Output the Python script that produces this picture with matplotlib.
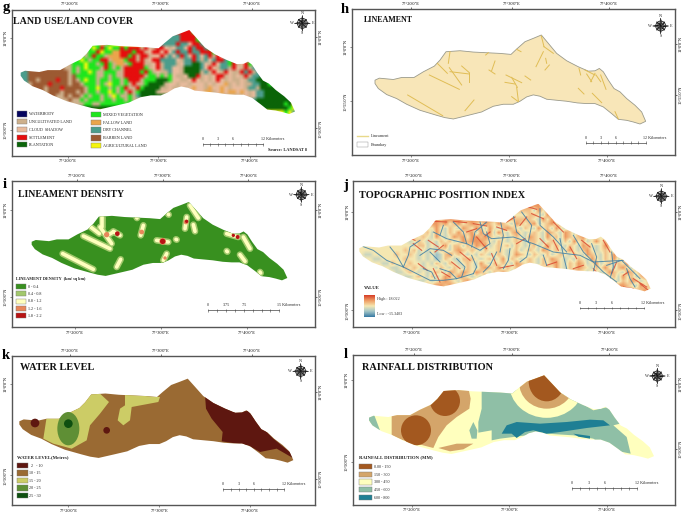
import numpy as np
import matplotlib
matplotlib.use('Agg')
import matplotlib.pyplot as plt
from matplotlib.colors import ListedColormap, LinearSegmentedColormap, to_rgb
from matplotlib.patches import Polygon, Rectangle, Circle, Ellipse

plt.rcParams['font.family'] = ['Liberation Serif', 'DejaVu Serif']

basin_x = [105, 118, 160, 185, 222, 250, 283, 300, 318, 360, 400, 440, 480, 513, 530, 555, 580, 604, 625, 650, 680,
           715, 745, 765, 778, 790, 805, 822, 840, 860, 885, 905, 917, 900, 880, 860, 835, 815, 790, 765, 740, 712,
           680, 650, 620, 600, 580, 560, 540, 520, 490, 460, 435, 425, 405, 385, 340, 315, 290, 240, 200, 170, 140,
           115, 105]
basin_y = [240, 234, 238, 232, 232, 215, 198, 180, 155, 152, 156, 158, 160, 163, 147, 125, 115, 105, 130, 160, 182,
           200, 213, 212, 205, 215, 240, 265, 275, 295, 315, 335, 363, 371, 365, 360, 357, 340, 320, 310, 310, 308,
           303, 300, 297, 288, 284, 290, 303, 312, 312, 318, 330, 335, 340, 345, 356, 352, 345, 330, 312, 295, 283,
           265, 250]

# land use classes, one letter per cell, '.' is outside the basin
lulc_names = ['WATERBODY', 'UNCULTIVATED LAND', 'CLOUD  SHADOW', 'SETTLEMENT', 'PLANTATION',
              'MIXED VEGETATION', 'FALLOW LAND', 'DRY CHANNEL', 'BARREN LAND', 'AGRICULTURAL LAND']
lulc_colors = ['#05055f', '#cdb08c', '#e8bb9d', '#e60d0d', '#0a6408',
               '#1ee61e', '#eba54b', '#4b9d8c', '#9c5a32', '#f5f50f']
lulc_letters = 'WUCSPMFDBA'
lulc_grid = [
    '.........................................SSMM',
    '.......................................DSSSSMP',
    '.....................................DDDSSSSMMP',
    '.................AMMFUMA.............DDSDDCSSDMPMP',
    '.................MAMSMAMMSMSSSUSCUSSCUCDDCSDSSDMMPMP',
    '................UMMSAMMFFSSSMSSUCSSCSCDSDDSDDSSSMPDMP',
    '..............MMUMSMMUFFFSSMSUSSUCCSUDCDSDCSDCDSUSCDPS',
    '............UMMAMUMMSSUFFFMSSUSUCSSDDDDCUDDSDUDCDSSDMSSU.....DD',
    '..........BUUMMMAMMUMSMUFFUMSSSUUCSUDDDUCDDPPDCUSCDDMSUCSMUDDDD',
    '........BBBUUMUMAMMMUSMUMUSSSSSMUCSUDDCCUPPPPDCSCUDDUSCUSUDDDDSD',
    'DDBBBBBBBBBBUMUMMAMUUMMMUUSSSSMSMUCUUDCCUPPPPUDUSCUSCUUSDSUDDDPPU',
    'DDBBBBBBBBBBUBMMMMMUUMUMUUSSSSSUMMUMUMCUUCPPSUCUCSSUCUCUSUDDPPPPU',
    'DDBBUBBBBSBBUBUMAMMUMMUMMUMSSSUMMMPPPMCCUUCSCUCUCSCUCUUCUDDPPPPPU',
    '.DUBBBBSBBBBUBBUMMMUMUAMMUMUSUUMPPPPUCCUCCUCCCUCUCCFUCUCUUDDPPMPPP',
    '....BBUBBBSBBBBBUMMAMMUMUMSUUSMPPPPUUCU.CUCFCCUFCCFCUCCCUDDUPPPPPPA',
    '.....BUBBBUBBBUBUMMUMMAMUMUSUMPPPPUC.........CFFUCFCFFCFCUCDDPPPPPPPAM',
    '........BUUBUBBUMUMMUMUAMUUMUDPP.......................UCUCDDPPPPPPPMPAD',
    '..........UUBUUMUMMMUMMUMMUMUU..........................UUDPPPPPPPPPAPDD',
    '...............UMMUUM......................................PPPPPPPMPAPDD',
    '...............................................................PPPPMAPAMDD',
    '.................................................................AMADD',
]

# topographic position, 0 valley blue to 4 ridge red, one digit per cell
tpi_grid = [
    '........................................4343',
    '......................................3142434',
    '.....................................233214343',
    '.................4344.................32142431234',
    '.................4342342343243243214323412342313',
    '................24213214324314213432132142314213423',
    '..............2314213242341424142134212321432143142',
    '............3232142124342443432131232143214231432342...2334',
    '..........2123212132312434443213212321332123213142312423423',
    '........22221331212413313243412323132123124232132143212431422',
    '22222222223231212132134323213223212312321432312421342123214232',
    '21122222322321212013423212132123212432132131232132143213243214',
    '222112222232212120132113332123124132123213243212132142132413423',
    '.2222113222322121321321232142132321432321323421324312412313243',
    '....3221123232122132132132134324132341.342324213243213242134213',
    '.....3221123212123214324324321324213.........3124321321243214324',
    '........2211232131243243212143243.......................2314231342',
    '..........32211212343213432143...........................213243123',
    '...............3344343.....................................4321423',
    '...............................................................34233',
]
tpi_colors = ['#3d7ea6', '#a6c7c8', '#f6e8b2', '#efa268', '#d8432b']

# streams picked out in blue on the TPI panel
tpi_streams = [
    [(65, 222), (100, 235), (140, 265), (190, 285), (240, 310), (270, 325), (310, 325), (350, 320), (400, 305)],
    [(190, 285), (205, 250), (210, 225), (240, 205)],
    [(240, 250), (270, 230), (310, 235), (335, 250)],
    [(270, 240), (300, 270)],
    [(280, 180), (320, 200), (380, 215), (420, 235), (450, 215), (440, 180)],
    [(420, 150), (430, 185), (455, 200), (520, 195), (580, 215), (640, 240), (720, 250), (760, 270), (850, 265)],
    [(520, 130), (530, 180), (570, 215), (560, 255), (540, 270)],
    [(600, 110), (600, 160), (640, 195), (680, 240)],
    [(700, 190), (730, 240), (790, 300), (830, 330)],
    [(470, 240), (450, 280), (430, 300)],
    [(340, 150), (370, 180), (380, 215)],
    [(800, 280), (845, 265), (900, 320)],
    [(300, 290), (330, 300), (350, 320)],
    [(480, 140), (490, 190), (480, 240)],
    [(150, 225), (170, 250), (190, 285)],
    [(395, 250), (410, 285), (400, 305)],
    [(350, 260), (375, 285), (365, 315)],
    [(510, 230), (505, 265), (490, 290)],
    [(610, 250), (620, 280)],
    [(660, 200), (670, 250), (680, 290)],
    [(755, 215), (770, 255), (760, 300)],
    [(815, 240), (820, 285), (810, 320)],
    [(860, 290), (870, 320), (885, 345)],
    [(440, 120 + 30), (405, 180), (395, 225)],
    [(310, 160), (300, 190)],
    [(545, 120), (575, 160), (565, 210)],
    [(250, 290), (275, 300), (285, 320)],
]
tpi_ridges = [
    [(280, 148), (320, 150)], [(340, 148), (380, 152)], [(400, 155), (440, 162)], [(435, 192), (450, 180)],
    [(220, 215), (245, 235)], [(265, 205), (295, 225)], [(285, 240), (310, 220)], [(305, 300), (330, 315)],
    [(280, 290), (300, 330)], [(480, 288), (520, 280)], [(565, 105), (590, 112)], [(575, 125), (610, 140)],
    [(640, 205), (655, 235)], [(690, 225), (710, 260)], [(790, 205), (810, 240)], [(830, 270), (815, 305)],
    [(880, 320), (920, 345)], [(850, 345), (880, 350)], [(470, 165), (500, 175)], [(360, 240), (390, 265)],
    [(410, 195), (440, 230)], [(600, 200), (625, 225)], [(530, 215), (555, 200)], [(455, 245), (470, 280)],
    [(560, 135), (540, 160)], [(640, 150), (670, 180)], [(725, 205), (750, 225)], [(760, 290), (790, 325)],
    [(335, 270), (360, 290)], [(235, 275), (262, 295)], [(200, 195), (225, 205)], [(620, 280), (650, 270)],
    [(700, 290), (730, 280)], [(850, 310), (865, 300)], [(900, 335), (925, 355)], [(500, 150), (525, 135)],
    [(380, 180), (410, 170)],
]

lineaments = [
    [(330, 155), (325, 190)], [(292, 190), (322, 220)], [(268, 225), (358, 268)], [(328, 203), (365, 255)],
    [(330, 215), (388, 222)], [(365, 198), (388, 218)], [(388, 218), (388, 245)], [(203, 285), (308, 347)],
    [(402, 300), (375, 332)], [(465, 183), (455, 212)], [(447, 210), (465, 222)], [(498, 225), (545, 248)],
    [(495, 247), (525, 252)], [(515, 232), (532, 262)], [(530, 262), (535, 302)], [(515, 290), (535, 305)],
    [(555, 228), (572, 240)], [(604, 108), (612, 140)], [(612, 140), (640, 160)], [(610, 155), (588, 200)],
    [(617, 175), (620, 190)], [(628, 195), (615, 210)], [(530, 148), (543, 155)], [(437, 165), (445, 158)],
    [(717, 205), (722, 225)], [(735, 210), (765, 225)], [(740, 222), (755, 245)], [(765, 220), (752, 245)],
    [(768, 225), (782, 245)], [(782, 225), (798, 268)], [(715, 265), (732, 282)], [(757, 280), (785, 308)],
    [(825, 335), (835, 357)],
]

density_names = ['0 - 0.4', '0.4 - 0.8', '0.8 - 1.2', '1.2 - 1.6', '1.8 - 2.2']
density_colors = ['#38901f', '#a2c86c', '#ffffbe', '#e8875a', '#b81414']
density_bands = [
    [(188, 245), (280, 292)], [(250, 192), (330, 230)], [(272, 165), (298, 185)], [(305, 135), (305, 165)],
    [(300, 165), (335, 215)], [(340, 178), (360, 190)], [(430, 160), (422, 190)], [(470, 205), (505, 210)],
    [(500, 245), (490, 265)], [(362, 262), (350, 285)], [(570, 100), (595, 138)], [(560, 135), (555, 170)],
    [(580, 158), (585, 178)], [(680, 185), (715, 195)], [(730, 195), (750, 230)], [(680, 237), (682, 239)],
    [(720, 248), (735, 268)], [(780, 300), (782, 303)], [(528, 202), (530, 203)], [(505, 127), (506, 128)],
    [(410, 137), (411, 138)], [(322, 190), (340, 180)],
]
density_warm = [(320, 188, 8), (425, 180, 7), (495, 258, 5), (558, 150, 7), (488, 208, 10)]
density_hot = [(352, 185, 7), (488, 208, 8), (560, 148, 5), (700, 190, 5), (713, 195, 6)]

water_names = ['  2   - 10', '10 - 15', '15 - 20', '20 - 25', '25 - 30']
water_colors = ['#5e1710', '#9a6a33', '#cccc66', '#5f8f35', '#0e4f10']
water_maroon = [(615, 160), (650, 185), (700, 210), (745, 207), (775, 245), (820, 290), (875, 335), (882, 350),
                (830, 320), (780, 330), (745, 310), (665, 298), (668, 270), (635, 230), (618, 200)]
water_olive_a = [(140, 225), (175, 222), (215, 190), (265, 155), (300, 155), (327, 180), (300, 215), (270, 250),
                 (260, 295), (215, 320), (160, 305), (130, 290)]
water_olive_b = [(375, 158), (480, 165), (475, 180), (395, 195), (390, 235), (370, 250), (353, 235), (360, 200),
                 (375, 190)]

rain_names = ['0.00 - 150', '150 - 300', '300 - 450', '450 - 600', '600 - 800']
rain_colors = ['#a3581f', '#d4a56a', '#ffffbe', '#8fbfa6', '#1f7f94']
rain_green_a = [(425, 145), (510, 150), (600, 120), (700, 170), (760, 205), (805, 195), (840, 245), (820, 250),
                (860, 285), (872, 335), (800, 320), (760, 290), (700, 280), (620, 275), (560, 280), (480, 290),
                (455, 295), (455, 265), (415, 272), (415, 240), (425, 200)]
rain_green_b = [(87, 212), (100, 212), (120, 265), (100, 260), (87, 235)]
rain_green_c = [(400, 240), (412, 265), (410, 290), (395, 290), (388, 265)]
rain_blue_a = [(485, 275), (500, 250), (530, 240), (600, 245), (680, 240), (750, 233), (790, 235), (810, 250),
               (740, 258), (660, 270), (620, 275), (580, 265), (555, 270), (530, 288), (515, 275)]
rain_blue_b = [(700, 275), (750, 282), (750, 290), (715, 284)]
rain_tan_a = [(155, 220), (215, 195), (270, 180), (320, 135), (385, 138), (392, 170), (388, 200), (350, 225),
              (320, 250), (295, 285), (280, 318), (230, 305), (190, 295), (155, 280)]
rain_tan_b = [(295, 318), (350, 305), (400, 305), (370, 322), (330, 328)]

# panel frames in figure pixels are origin + crop/3
panels = {
    'g': dict(origin=(0, 0), frame=(35, 945, 30, 467), basin=(62, 885, 90, 342), title='LAND USE/LAND COVER',
              title_xy=(40, 66), title_size=7.2, top=(208, 482, 755), bottom=(203, 475, 749), left=(115, 390),
              right=(110, 385), lat=('11°0\'0"N', '10°50\'0"N'), letter_xy=(18, 22), compass=(907, 70),
              bar=(608, 790, 433), bar_labels=('0', '3', '6', '12 Kilometers')),
    'h': dict(origin=(340, 0), frame=(35, 1005, 28, 465), basin=(105, 917, 105, 372), title='LINEAMENT',
              title_xy=(73, 61), title_size=5.8, top=(213, 515, 806), bottom=(213, 506, 800), left=(142, 304),
              right=(132, 285), lat=('11°0\'0"N', '10°55\'0"N'), letter_xy=(14, 28), compass=(962, 78),
              bar=(738, 917, 428), bar_labels=('0', '3', '6', '12 Kilometers')),
    'i': dict(origin=(0, 172), frame=(35, 945, 28, 465), basin=(95, 862, 90, 325), title='LINEAMENT DENSITY',
              title_xy=(55, 67), title_size=7.0, top=(230, 488, 745), bottom=(224, 482, 740), left=(115, 375),
              right=(115, 375), lat=('11°0\'0"N', '10°50\'0"N'), letter_xy=(13, 36), compass=(904, 68),
              bar=(625, 838, 415), bar_labels=('0', '3.75', '7.5', '15 Kilometers')),
    'j': dict(origin=(340, 172), frame=(40, 1005, 28, 465), basin=(58, 932, 95, 358), title='TOPOGRAPHIC POSITION INDEX',
              title_xy=(58, 72), title_size=7.4, top=(220, 515, 806), bottom=(215, 510, 800), left=(120, 415),
              right=(120, 415), lat=('11°0\'0"N', '10°50\'0"N'), letter_xy=(18, 42), compass=(964, 73),
              bar=(720, 912, 408), bar_labels=('0', '3', '6', '12 Kilometers')),
    'k': dict(origin=(0, 342), frame=(35, 945, 43, 490), basin=(58, 880, 110, 362), title='WATER LEVEL',
              title_xy=(60, 78), title_size=7.4, top=(210, 482, 755), bottom=(205, 478, 750), left=(125, 400),
              right=(150, 410), lat=('11°0\'0"N', '10°50\'0"N'), letter_xy=(18, 40), compass=(902, 88),
              bar=(670, 853, 442), bar_labels=('0', '3', '6', '12 Kilometers')),
    'l': dict(origin=(340, 342), frame=(38, 1005, 40, 488), basin=(87, 942, 100, 350), title='RAINFALL DISTRIBUTION',
              title_xy=(65, 78), title_size=7.4, top=(222, 515, 808), bottom=(215, 508, 800), left=(115, 360),
              right=(125, 320), lat=('11°0\'0"N', '10°50\'0"N'), letter_xy=(18, 38), compass=(952, 102),
              bar=(697, 892, 439), bar_labels=('0', '3', '6', '12 Kilometers')),
}
lon_labels = ['77°20\'0"E', '77°30\'0"E', '77°40\'0"E']

W, H = 685, 514
fig = plt.figure(figsize=(W / 100, H / 100), dpi=100)


def basin_polygon(p):
    x0, x1, y0, y1 = p['basin']
    xs = x0 + (np.array(basin_x) - 105) / (917 - 105) * (x1 - x0)
    ys = y0 + (np.array(basin_y) - 105) / (371 - 105) * (y1 - y0)
    return np.column_stack([xs, ys])


def fill_row(row, n):
    # cells just past the edge take the nearest typed class, the clip trims them
    known = [i for i, c in enumerate(row) if c != '.']
    return [row[min(known, key=lambda k: abs(k - i))] for i in range(n)]


def make_panel(name):
    p = panels[name]
    ox, oy = p['origin']
    l, r, t, b = p['frame']
    ax = fig.add_axes([(ox + l / 3) / W, 1 - (oy + b / 3) / H, (r - l) / 3 / W, (b - t) / 3 / H])
    for s in ax.spines.values():
        s.set_color('#555555')
        s.set_linewidth(1.0)
    ax.set_xticks(p['bottom'], lon_labels, fontsize=3.2)
    ax.set_yticks(p['left'], p['lat'], fontsize=3.2, rotation=90, va='center')
    ax.tick_params(length=1.5, width=0.4, pad=1.2, color='#333333')
    top = ax.secondary_xaxis('top')
    top.set_xticks(p['top'], lon_labels, fontsize=3.2)
    top.tick_params(length=1.5, width=0.4, pad=1.2)
    top.spines['top'].set_visible(False)
    right = ax.secondary_yaxis('right')
    right.set_yticks(p['right'], p['lat'], fontsize=3.2, rotation=90, va='center')
    right.tick_params(length=1.5, width=0.4, pad=1.2)
    right.spines['right'].set_visible(False)
    ax.text(p['title_xy'][0], p['title_xy'][1], p['title'], fontsize=p['title_size'], fontweight='bold',
            va='center', color='#111111')
    fig.text((ox + p['letter_xy'][0] / 3) / W, 1 - (oy + p['letter_xy'][1] / 3) / H, name, fontsize=10.5,
             fontweight='bold', ha='center', va='center')
    compass(ax, *p['compass'])
    scale_bar(ax, p['bar'], p['bar_labels'])
    poly = Polygon(basin_polygon(p), closed=True, fc='none', ec='none')
    ax.add_patch(poly)
    ax.set_xlim(l, r)
    ax.set_ylim(b, t)
    return ax, p, poly


def compass(ax, cx, cy, r=24):
    ax.add_patch(Circle((cx, cy), r * 0.62, fc='white', ec='#222222', lw=0.6, zorder=5))
    for i in range(8):
        a = i * np.pi / 4
        length = r if i % 2 == 0 else r * 0.75
        tip = (cx + length * np.sin(a), cy - length * np.cos(a))
        for sgn in (-1, 1):
            side = (cx + 0.3 * r * np.sin(a + sgn * 0.6), cy - 0.3 * r * np.cos(a + sgn * 0.6))
            ax.add_patch(Polygon([(cx, cy), tip, side], fc='#111111' if sgn > 0 else '#777777', ec='#111111',
                                 lw=0.2, zorder=6))
    for s, dx, dy in [('N', 0, -1.25), ('S', 0, 1.25), ('E', 1.3, 0), ('W', -1.3, 0)]:
        ax.text(cx + dx * r, cy + dy * r, s, fontsize=3, ha='center', va='center', color='#222222')


def scale_bar(ax, bar, labels):
    x0, x1, y = bar
    ax.plot([x0, x1], [y, y], color='#444444', lw=0.5)
    xs = np.linspace(x0, x1, 9)
    ax.vlines(xs, y - 4, y + 4, color='#444444', lw=0.4)
    for tx, s in zip([xs[0], xs[2], xs[4]], labels[:3]):
        ax.text(tx, y - 15, s, fontsize=3, ha='center', va='center', color='#222222')
    ax.text(x1 - 8, y - 15, labels[3], fontsize=3, ha='left', va='center', color='#222222')


def legend_box(ax, x0, x1, y0, y1, color, label, tx, ec='#777777'):
    ax.add_patch(Rectangle((x0, y0), x1 - x0, y1 - y0, fc=color, ec=ec, lw=0.3))
    ax.text(tx, (y0 + y1) / 2 + 1, label, fontsize=3, va='center', color='#222222')


def fill_zone(ax, pts, color, poly, z=2):
    patch = Polygon(pts, closed=True, fc=color, ec='none', zorder=z)
    ax.add_patch(patch)
    patch.set_clip_path(poly)


# g land use
ax, p, poly = make_panel('g')
lulc_rgb = np.array([to_rgb(c) for c in lulc_colors])
codes = np.array([[lulc_letters.index(c) for c in fill_row(r, 69)] for r in lulc_grid])
im = ax.imshow(lulc_rgb[codes], interpolation='bilinear', aspect='auto',
               extent=(60, 60 + 12 * 69, 90 + 12 * len(lulc_grid), 90), zorder=2)
im.set_clip_path(poly)
ax.set_xlim(35, 945)
ax.set_ylim(467, 30)
ys = [(333, 350), (357, 373), (380, 396), (404, 420), (427, 442)]
for i, (y0, y1) in enumerate(ys):
    legend_box(ax, 50, 82, y0, y1, lulc_colors[i], lulc_names[i], 87)
    legend_box(ax, 272, 304, y0 + 2, y1 + 2, lulc_colors[i + 5], lulc_names[i + 5], 308)
ax.text(805, 451, 'Source: LANDSAT 8', fontsize=3.2, fontweight='bold', va='center', color='#222222')

# h lineament
ax, p, poly = make_panel('h')
ax.add_patch(Polygon(basin_polygon(p), closed=True, fc='#f8e6b8', ec='#9a9a8c', lw=0.6, zorder=2))
for seg in lineaments:
    xy = np.array(seg)
    ax.plot(xy[:, 0], xy[:, 1], color='#e0bd55', lw=0.7, zorder=3)
ax.plot([52, 85], [407, 407], color='#e8d98a', lw=1.0)
ax.text(92, 408, 'Lineament', fontsize=3.2, va='center', color='#333333')
legend_box(ax, 52, 85, 425, 442, 'white', 'Boundary', 92, ec='#888888')

# i lineament density
ax, p, poly = make_panel('i')
ax.add_patch(Polygon(basin_polygon(p), closed=True, fc=density_colors[0], ec='none', zorder=2))
for seg in density_bands:
    pts = np.array(seg)
    ax.plot(pts[:, 0], pts[:, 1], color=density_colors[1], lw=4.8, solid_capstyle='round', zorder=3, clip_path=poly)
for seg in density_bands:
    pts = np.array(seg)
    ax.plot(pts[:, 0], pts[:, 1], color=density_colors[2], lw=2.6, solid_capstyle='round', zorder=4, clip_path=poly)
for x, y, r in density_warm:
    ax.add_patch(Circle((x, y), r, fc=density_colors[3], ec='none', zorder=5))
for x, y, r in density_hot:
    ax.add_patch(Circle((x, y), r, fc=density_colors[4], ec='none', zorder=6))
ax.text(47, 322, 'LINEAMENT DENSITY  (km/ sq km)', fontsize=3.1, fontweight='bold', va='center', color='#222222')
for i, (y0, y1) in enumerate([(335, 351), (358, 373), (380, 395), (402, 417), (424, 439)]):
    legend_box(ax, 47, 78, y0, y1, density_colors[i], density_names[i], 84)

# j topographic position index
ax, p, poly = make_panel('j')
vals = np.array([[int(c) for c in fill_row(r, 66)] for r in tpi_grid], dtype=float)
tpi_cmap = LinearSegmentedColormap.from_list('tpi', tpi_colors)
im = ax.imshow(2 + (vals - 2) * 0.55, cmap=tpi_cmap, vmin=0, vmax=4, interpolation='bilinear', aspect='auto',
               extent=(58, 58 + 13.3 * 66, 95 + 13.2 * len(tpi_grid), 95), zorder=2)
im.set_clip_path(poly)
for line in tpi_ridges:
    xy = np.array(line)
    ax.plot(xy[:, 0], xy[:, 1], color=tpi_colors[4], lw=0.8, alpha=0.8, zorder=3, clip_path=poly)
for line in tpi_streams:
    xy = np.array(line)
    ax.plot(xy[:, 0], xy[:, 1], color=tpi_colors[0], lw=0.7, alpha=0.85, zorder=3, clip_path=poly)
ax.text(73, 348, 'VALUE', fontsize=3.4, fontweight='bold', va='center', color='#222222')
ax.imshow(np.linspace(4, 0, 20).reshape(-1, 1), cmap=tpi_cmap, vmin=0, vmax=4, aspect='auto',
          extent=(73, 106, 435, 370), zorder=2)
ax.set_xlim(40, 1005)
ax.set_ylim(465, 28)
ax.text(112, 381, 'High : 18.022', fontsize=3, va='center', color='#333333')
ax.text(112, 427, 'Low : -15.3403', fontsize=3, va='center', color='#333333')

# k water level
ax, p, poly = make_panel('k')
ax.add_patch(Polygon(basin_polygon(p), closed=True, fc=water_colors[1], ec='none', zorder=1.5))
fill_zone(ax, water_maroon, water_colors[0], poly)
fill_zone(ax, water_olive_a, water_colors[2], poly)
fill_zone(ax, water_olive_b, water_colors[2], poly)
ax.add_patch(Ellipse((205, 260), 66, 100, fc=water_colors[3], ec='none', zorder=3))
ax.add_patch(Circle((205, 245), 13, fc=water_colors[4], ec='none', zorder=4))
ax.add_patch(Circle((105, 243), 13, fc=water_colors[0], ec='none', zorder=3))
ax.add_patch(Circle((320, 265), 10, fc=water_colors[0], ec='none', zorder=3))
ax.text(50, 345, 'WATER LEVEL(Metres)', fontsize=3.4, fontweight='bold', va='center', color='#222222')
for i, (y0, y1) in enumerate([(363, 379), (385, 401), (408, 424), (430, 446), (452, 468)]):
    legend_box(ax, 50, 83, y0, y1, water_colors[i], water_names[i], 88)

# l rainfall
ax, p, poly = make_panel('l')
ax.add_patch(Polygon(basin_polygon(p), closed=True, fc=rain_colors[2], ec='none', zorder=1.5))
fill_zone(ax, rain_green_a, rain_colors[3], poly)
fill_zone(ax, rain_green_b, rain_colors[3], poly)
fill_zone(ax, rain_green_c, rain_colors[3], poly)
for shape, z in [(Ellipse((620, 125), 225, 205, fc=rain_colors[2], ec='none'), 2.2),
                 (Ellipse((620, 122), 165, 156, fc=rain_colors[1], ec='none'), 2.4),
                 (Ellipse((620, 118), 108, 120, fc=rain_colors[0], ec='none'), 2.8),
                 (Circle((228, 265), 45, fc=rain_colors[0], ec='none'), 2.8),
                 (Circle((315, 177), 45, fc=rain_colors[0], ec='none'), 2.8)]:
    shape.set_zorder(z)
    ax.add_patch(shape)
    shape.set_clip_path(poly)
fill_zone(ax, rain_tan_a, rain_colors[1], poly, z=2.5)
fill_zone(ax, rain_tan_b, rain_colors[1], poly, z=2.5)
fill_zone(ax, rain_blue_a, rain_colors[4], poly, z=3)
fill_zone(ax, rain_blue_b, rain_colors[4], poly, z=3)
ax.text(58, 345, 'RAINFALL DISTRIBUTION (MM)', fontsize=3.4, fontweight='bold', va='center', color='#222222')
for i, (y0, y1) in enumerate([(366, 382), (389, 405), (412, 428), (435, 451), (458, 474)]):
    legend_box(ax, 58, 95, y0, y1, rain_colors[i], rain_names[i], 103)

fig.savefig('out.png', dpi=100)
plt.close()
